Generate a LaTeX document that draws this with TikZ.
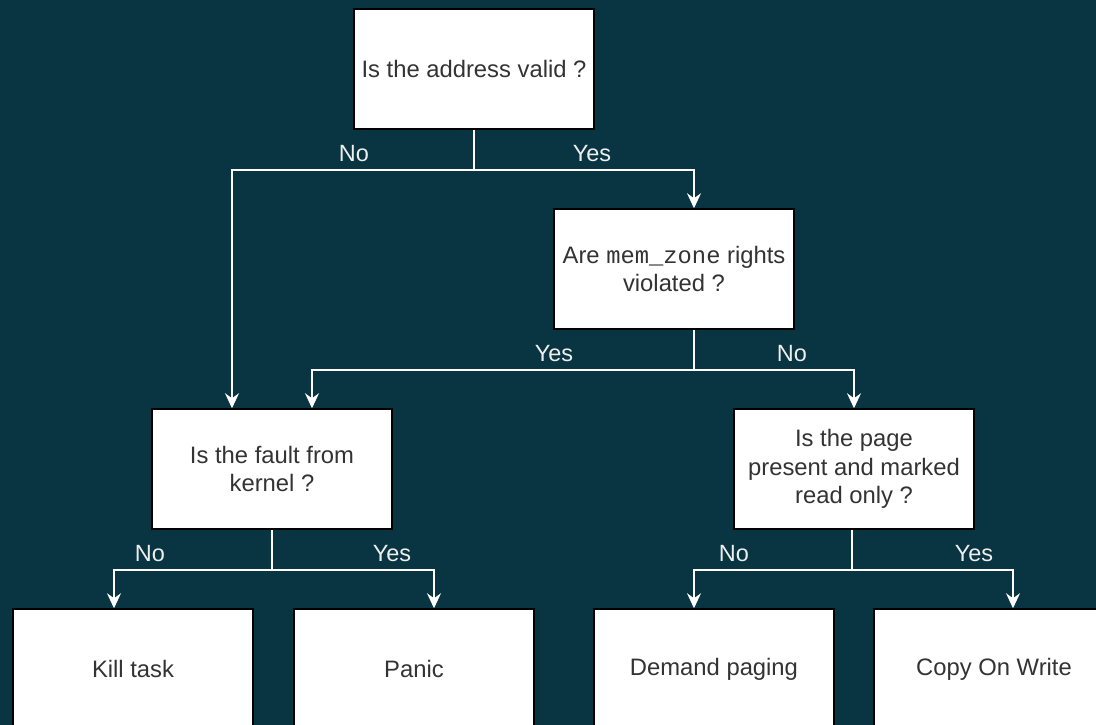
\documentclass[tikz,border=0pt]{standalone}
\usepackage{fontspec}
\setmainfont{Liberation Sans}
\setmonofont{Liberation Mono}
\usetikzlibrary{arrows.meta}
\definecolor{bgteal}{HTML}{083541}
\definecolor{boxtext}{HTML}{333333}
\definecolor{lbl}{HTML}{EEEEEE}
\begin{document}
\begin{tikzpicture}[x=1pt,y=-1pt,
  box/.style={draw=black,fill=white,line width=1.5pt,minimum width=240pt,minimum height=120pt,
    inner sep=0pt,align=center,text=boxtext,font=\fontsize{23.8}{28.5}\selectfont},
  link/.style={draw=white,line width=1.5pt,-{Stealth[length=15pt,width=14pt,inset=5pt]}},
  plain/.style={draw=white,line width=1.5pt},
  tag/.style={text=lbl,font=\fontsize{23.5}{26}\selectfont,inner sep=0pt}]
\fill[bgteal] (0,0) rectangle (1096,725);
\useasboundingbox (0,0) rectangle (1096,725);
\begin{scope}
\clip (0,0) rectangle (1096,725);
% decision boxes
\node[box] (valid) at (474,69) {Is the address valid ?};
\node[box] (rights) at (674,269) {Are {\ttfamily mem\_zone} rights\\violated ?};
\node[box] (kernel) at (272,469) {Is the fault from\\kernel ?};
\node[box] (present) at (854,469) {Is the page\\present and marked\\read only ?};
% outcome boxes
\node[box] (kill) at (133,669) {Kill task};
\node[box] (panic) at (414,669) {Panic};
\node[box] (demand) at (714,669) {Demand paging};
\node[box] (cow) at (994,669) {Copy On Write};
\end{scope}
% split points below each decision (yshift is in page direction: negative goes down)
\coordinate (s1) at ([yshift=-40pt]valid.south);
\coordinate (s2) at ([xshift=20pt,yshift=-40pt]rights.south);
\coordinate (s3) at ([yshift=-40pt]kernel.south);
\coordinate (s4) at ([xshift=-2pt,yshift=-40pt]present.south);
% connectors
\draw[plain] (valid.south) -- (s1);
\draw[link] (s1) -| ([xshift=-40pt]kernel.north);
\draw[link] (s1) -| ([xshift=20pt]rights.north);
\draw[plain] ([xshift=20pt]rights.south) -- (s2);
\draw[link] (s2) -| ([xshift=40pt]kernel.north);
\draw[link] (s2) -| (present.north);
\draw[plain] (kernel.south) -- (s3);
\draw[link] (s3) -| ([xshift=-19pt]kill.north);
\draw[link] (s3) -| ([xshift=20pt]panic.north);
\draw[plain] ([xshift=-2pt]present.south) -- (s4);
\draw[link] (s4) -| ([xshift=-20pt]demand.north);
\draw[link] (s4) -| ([xshift=19pt]cow.north);
% branch labels
\node[tag] (l1) at (354,154) {No};
\node[tag] (l2) at (592,154) {Yes};
\node[tag] (l3) at (554,354) {Yes};
\node[tag] (l4) at (792,354) {No};
\node[tag] (l5) at (150,554) {No};
\node[tag] (l6) at (392,554) {Yes};
\node[tag] (l7) at (734,554) {No};
\node[tag] (l8) at (974,554) {Yes};
\end{tikzpicture}
\end{document}
